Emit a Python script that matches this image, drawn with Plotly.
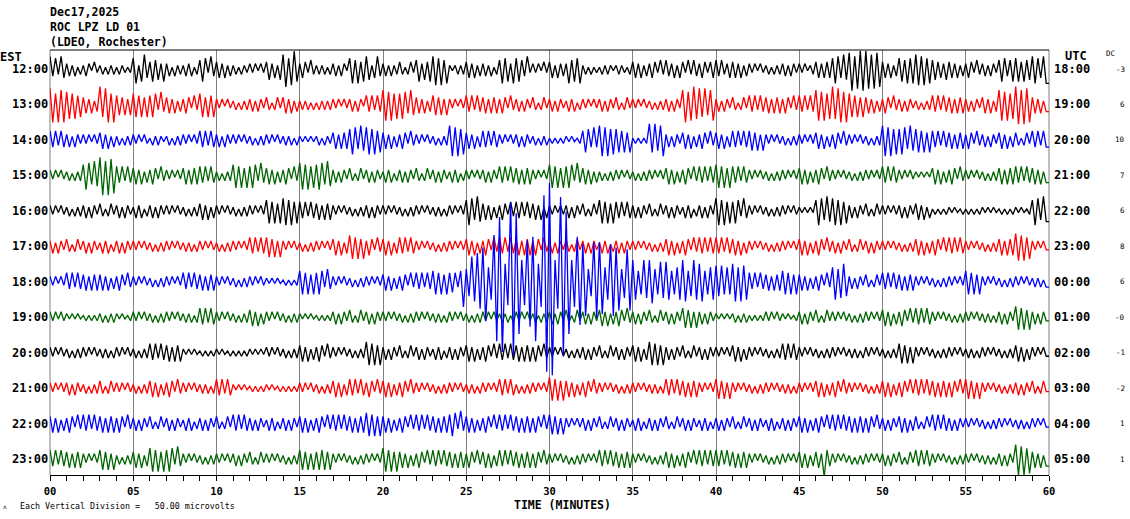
import numpy as np
import plotly.graph_objects as go

# ---------------- data ----------------
HOURS_EST = ["12:00", "13:00", "14:00", "15:00", "16:00", "17:00",
             "18:00", "19:00", "20:00", "21:00", "22:00", "23:00"]
HOURS_UTC = ["18:00", "19:00", "20:00", "21:00", "22:00", "23:00",
             "00:00", "01:00", "02:00", "03:00", "04:00", "05:00"]
DC_VALUES = ["-3", "6", "10", "7", "6", "8", "6", "-0", "-1", "-2", "1", "1"]
TRACE_COLORS = ["black", "red", "blue", "#006400"]
TICK_VALUES = list(range(0, 61, 5))
TICK_LABELS = ["00", "05", "10", "15", "20", "25", "30", "35", "40", "45", "50", "55", "60"]

# Each character is one peak amplitude (alternating up / down swings),
# 6 peaks per minute, groups of 6 = one minute. Level n = n * 1.8 screen px.
AMP_ALPHABET = "0123456789abcdefghijklmnopqrstuvwxyzABCDEFGHIJKLMNOPQRSTUVWXYZ"

TRACE_12 = """
746375 342413 243142 231323 132212 682785 475637 341423 243413 576274
453524 231322 323132 463526 8a69a7 354253 232313 342431 685847 762574
342423 431342 573647 796958 212323 453524 342413 586738 675472 323142
452534 385768 231312 132321 232213 453524 354253 543525 425354 354245
545335 453524 323132 231323 342432 323123 453545 687586 9c7bac ab8b9a
453524 675868 897968 564536 453524 354253 342432 576457 674756 786578
"""
TRACE_13 = """
9a6a8a 786857 453524 a79a6a 564636 675747 576374 453524 354253 674757
323132 231323 342432 431342 453524 232313 132323 323132 342431 545354
897968 687586 453524 564636 323132 545354 453545 354253 342432 431342
342432 243413 323132 342432 431342 323132 231323 342432 8a79a8 979689
342432 431342 545354 453545 354253 545354 897968 a89a7a 675747 453524
354253 342432 231323 545354 453545 342432 453524 897968 ab8b9a 453524
"""
TRACE_14 = """
545354 342432 323132 453524 231323 323132 132321 231323 323132 545354
342432 323132 231323 323132 232313 212121 231322 453545 687586 786857
453524 354253 323132 231323 897968 453524 545354 323132 342432 231323
121212 212112 576474 897968 675747 121212 979689 342432 453524 354253
453524 545354 564636 323132 231323 323132 453524 354253 323132 231323
897968 687586 675747 545354 453545 354253 342432 453524 431342 545354
"""
TRACE_15 = """
323132 231323 687586 ab8b9a 545354 453524 354253 323132 453545 545354
231323 675747 576374 453524 354253 786857 687586 342432 431342 342432
243413 342432 431342 342432 243413 323132 342432 545354 453545 323132
675747 576374 453524 231323 323132 231323 323132 453524 354253 545354
675747 545354 323132 231323 323132 453524 354253 323132 231323 323132
545354 323132 212121 453524 354253 323132 231323 453545 545354 453524
"""
TRACE_16 = """
323132 231323 342432 431342 342432 243413 342432 323132 231323 453524
323132 231323 323132 675747 786857 545354 453545 323132 231323 342432
323132 231323 323132 232313 323132 687586 453524 354253 545354 453524
323132 342432 431342 675747 545354 342432 431342 342432 243413 342432
786857 576374 323132 231323 323132 212121 687586 786857 342432 431342
323132 342432 453524 121212 212112 121212 212121 121212 212112 687586
"""
TRACE_17 = """
342432 431342 342432 243413 342432 323132 231323 323132 232313 323132
231323 323132 545354 564636 323132 231323 323132 453524 675747 354253
453524 545354 323132 231323 323132 453524 354253 545354 453545 354253
342432 431342 342432 243413 342432 323132 231323 453524 354253 545354
545354 453524 323132 231323 323132 453524 354253 342432 431342 342432
323132 231323 453524 354253 545354 323132 231323 453545 786857 323132
"""
TRACE_18 = """
323132 545354 453545 453524 354253 323132 231323 323132 545354 453545
323132 231323 323132 212121 121212 675747 576374 323132 231323 323132
453524 354253 545354 675747 56536e 78ebgf jm8aqx ADadIF Ctcdnp pxaeMO
TQcfLF Dtcepo lj78mk mi8alj jg79ig ca67c9 cc77b9 ba678a cb68ca ab678a
989787 ab8b9a 545354 453545 675747 453524 354253 8a79a8 342432 431342
545354 453545 323132 231323 323132 675747 323132 231323 323132 232313
"""
TRACE_19 = """
323132 212121 121212 231323 212112 323132 231323 323132 232313 545354
323132 231323 453524 323132 231323 212121 121212 342432 431342 342432
323132 231323 323132 232313 323132 231323 323132 232313 323132 231323
342432 431342 342432 453524 354253 342432 431342 342432 564636 342432
212121 231323 121212 323132 212112 342432 431342 323132 231323 323132
453524 354253 545354 323132 231323 323132 232313 342432 675747 342432
"""
TRACE_20 = """
323132 231323 323132 232313 323132 231323 545354 453545 212121 121212
212112 121212 212121 323132 231323 453524 354253 323132 231323 675747
342432 431342 342432 243413 342432 453524 354253 545354 453545 354253
323132 231323 342432 431342 342432 453524 675747 342432 431342 342432
323132 453524 323132 231323 545354 323132 231323 323132 232313 323132
231323 564636 323132 231323 323132 232313 323132 231323 453524 323132
"""
TRACE_21 = """
323132 342432 231323 431342 323132 231323 453524 354253 323132 232313
545354 212121 121212 212112 121212 323132 231323 453524 545354 354253
453524 354253 323132 231323 323132 232313 323132 545354 231323 323132
675747 453524 354253 323132 231323 323132 232313 545354 453545 323132
564636 323132 231323 323132 232313 323132 453524 354253 323132 231323
453524 354253 545354 453545 354253 564636 323132 231323 342432 431342
"""
TRACE_22 = """
453524 354253 545354 453545 354253 342432 431342 342432 243413 342432
431342 545354 342432 243413 342432 453524 354253 545354 453545 675747
453524 354253 545354 453545 576374 453524 354253 545354 453545 354253
564636 323132 342432 431342 342432 243413 342432 431342 342432 243413
342432 431342 342432 243413 342432 453524 354253 545354 453545 354253
342432 453524 431342 545354 342432 323132 231323 323132 232313 323132
"""
TRACE_23 = """
545354 453545 323132 564636 231323 453524 675747 576374 323132 231323
323132 342432 431342 323132 231323 564636 465646 323132 231323 323132
675747 453524 354253 545354 453545 354253 453524 545354 453545 354253
323132 231323 323132 545354 453545 323132 231323 453524 354253 545354
545354 453545 323132 231323 323132 453524 453a54 323132 231323 323132
342432 431342 545354 323132 231323 323132 232313 342432 897968 453524
"""
TRACES = [TRACE_12, TRACE_13, TRACE_14, TRACE_15, TRACE_16, TRACE_17,
          TRACE_18, TRACE_19, TRACE_20, TRACE_21, TRACE_22, TRACE_23]

# ---------------- layout geometry (screen px) ----------------
W, H = 1130, 519
PL, PR, PT, PB = 50, 1049, 50, 475          # plot box
ROW_PX = 35.45
LEVEL_PX = 1.8
Y_TOP = 19 / ROW_PX
Y_BOT = -(len(TRACES) - 1) - 16 / ROW_PX


def px_x(x):
    return (x - PL) / (PR - PL)


def px_y(y):
    return (PB - y) / (PB - PT)


MONO = "DejaVu Sans Mono"

fig = go.Figure()

order = list(range(len(TRACES)))
order.remove(6)
order.append(6)  # the quake trace is drawn on top
for i in order:
    s = "".join(TRACES[i].split())
    lv = np.array([AMP_ALPHABET.index(c) for c in s], dtype=float)
    n = len(lv)
    sign = np.where(np.arange(n) % 2 == 0, 1.0, -1.0)
    y = -i + sign * lv * LEVEL_PX / ROW_PX
    x = np.arange(n) * 60.0 / n
    x = np.append(x, 60.0)
    y = np.append(y, y[-1])
    fig.add_trace(go.Scatter(
        x=x, y=y, mode="lines",
        line=dict(color=TRACE_COLORS[i % 4], width=1.3, shape="linear"),
        hoverinfo="skip", showlegend=False))

ann = []
bold12 = dict(family=MONO, size=12, color="black", weight="bold")
for i in range(len(TRACES)):
    ann.append(dict(text=HOURS_EST[i], x=px_x(50), xanchor="right", xref="paper",
                    y=-i, yref="y", yanchor="middle", showarrow=False, font=bold12))
    ann.append(dict(text=HOURS_UTC[i], x=px_x(1052), xanchor="left", xref="paper",
                    y=-i, yref="y", yanchor="middle", showarrow=False, font=bold12))
    ann.append(dict(text=DC_VALUES[i], x=px_x(1127), xanchor="right", xref="paper",
                    y=-i, yref="y", yanchor="middle", showarrow=False,
                    font=dict(family=MONO, size=7.5, color="black")))


def label(text, x, y, anchor="left", size=12, bold=True):
    f = dict(family=MONO, size=size, color="black")
    if bold:
        f["weight"] = "bold"
    ann.append(dict(text=text, x=px_x(x), y=px_y(y), xref="paper", yref="paper",
                    xanchor=anchor, yanchor="middle", showarrow=False, font=f))


label("Dec17,2025", 48, 12, size=11.5)
label("ROC LPZ LD 01", 48, 27, size=11.5)
label("(LDEO, Rochester)", 48, 42, size=11.5)
label("EST", -2, 57)
label("UTC", 1063, 56)
label("DC", 1104, 54, size=7.5, bold=False)
label("TIME (MINUTES)", 562, 505, anchor="center", size=11.5)
label("Each Vertical Division =   50.00 microvolts", 18, 506, size=8.3, bold=False)
label("ʌ", 1, 507, size=6, bold=False)

shapes = [
    dict(type="line", xref="paper", yref="paper", x0=0, x1=1, y0=1, y1=1,
         line=dict(color="black", width=1), layer="above"),
    dict(type="line", xref="paper", yref="paper", x0=0, x1=0, y0=0, y1=1,
         line=dict(color="#808080", width=1), layer="below"),
    dict(type="line", xref="paper", yref="paper", x0=1, x1=1, y0=0, y1=1,
         line=dict(color="#808080", width=1), layer="below"),
]

fig.update_layout(
    width=W, height=H,
    margin=dict(l=PL, r=W - PR, t=PT, b=H - PB),
    paper_bgcolor="white", plot_bgcolor="white",
    showlegend=False,
    annotations=ann, shapes=shapes,
    xaxis=dict(range=[0, 60], tickvals=TICK_VALUES, ticktext=TICK_LABELS,
               showgrid=True, gridcolor="#808080", gridwidth=1, zeroline=False,
               showline=True, linecolor="black", linewidth=1,
               ticks="outside", ticklen=5, tickcolor="black", ticklabelstandoff=1,
               tickfont=dict(family=MONO, size=10.5, color="black", weight="bold"),
               minor=dict(dtick=1, tick0=0, ticks="outside", ticklen=5,
                          tickcolor="black", showgrid=False)),
    yaxis=dict(range=[Y_BOT, Y_TOP], visible=False, fixedrange=True),
)

fig.write_html("out.html", config={"displayModeBar": False},
               post_script="document.body.style.margin='0px';")
